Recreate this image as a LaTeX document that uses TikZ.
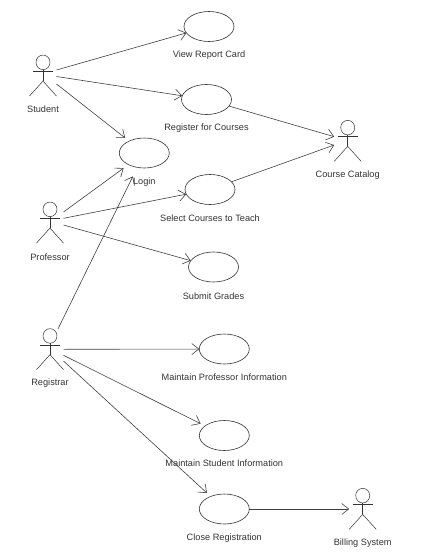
\documentclass[tikz,border=0pt]{standalone}
\usepackage{fontspec}
\setmainfont{Liberation Sans}
\usetikzlibrary{arrows.meta,positioning,shapes.geometric}

\begin{document}
\begin{tikzpicture}[
    x=1pt, y=-1pt,
    node distance=9pt,
    usecase/.style={draw=black!80, ellipse, minimum width=50pt, minimum height=30pt,
                    inner sep=0pt, outer sep=0pt, line width=0.6pt},
    actor/.style={minimum width=27pt, minimum height=40.7pt, inner sep=0pt, outer sep=0pt},
    lbl/.style={font=\fontsize{9.2}{10}\selectfont, text=black!80, inner sep=0pt, outer sep=0pt,
                text height=7pt, text depth=2pt},
    stick/.style={draw=black!80, line width=0.5pt},
    arr/.style={-{Straight Barb[length=7pt, width=11pt]}, draw=black!75, line width=0.6pt},
]
  \useasboundingbox (0,0) rectangle (432,557);

  % Actors
  \node[actor] (student) at (43,75.7) {};
  \node[actor] (professor) at (50,222.7) {};
  \node[actor] (registrar) at (50,349.3) {};
  \node[actor] (catalog) at (347.7,141) {};
  \node[actor] (billing) at (362.7,509) {};

  \foreach \a in {student,professor,registrar,catalog,billing} {
    \begin{scope}[shift={(\a)}]
      \draw[stick] (0,-13.35) circle[x radius=7, y radius=7.3];
      \draw[stick] (-10,-4.35) -- (10,-4.35);
      \draw[stick] (0,-6.05) -- (0,5.35);
      \draw[stick] (-13.5,20.35) -- (0,5.35) -- (13.5,20.35);
    \end{scope}
  }

  % Use cases
  \node[usecase] (view) at (209,26.5) {};
  \node[usecase] (register) at (206.5,99.5) {};
  \node[usecase] (login) at (144.3,153) {};
  \node[usecase] (select) at (210,189.5) {};
  \node[usecase] (submit) at (213.5,267) {};
  \node[usecase] (maintainprof) at (224.3,349) {};
  \node[usecase] (maintainstud) at (224.3,435.5) {};
  \node[usecase] (close) at (224.3,509) {};

  % Labels
  \node[lbl, below=of student] (studentlbl) {Student};
  \node[lbl, below=10pt of professor] (professorlbl) {Professor};
  \node[lbl, below=of registrar] (registrarlbl) {Registrar};
  \node[lbl, below=of catalog] (cataloglbl) {Course Catalog};
  \node[lbl, below=of billing] (billinglbl) {Billing System};
  \node[lbl, below=of view] (viewlbl) {View Report Card};
  \node[lbl, below=of register] (registerlbl) {Register for Courses};
  \node[lbl, below=of login] (loginlbl) {Login};
  \node[lbl, below=10pt of select] (selectlbl) {Select Courses to Teach};
  \node[lbl, below=10pt of submit] (submitlbl) {Submit Grades};
  \node[lbl, below=of maintainprof] (maintainproflbl) {Maintain Professor Information};
  \node[lbl, below=of maintainstud] (maintainstudlbl) {Maintain Student Information};
  \node[lbl, below=of close] (closelbl) {Close Registration};

  % Arrows
  \draw[arr] ([yshift=5.7pt]student.east) -- (view);
  \draw[arr] ([yshift=-0.8pt]student.east) -- (register);
  \draw[arr, shorten >=5pt] ([yshift=-8.3pt]student.east) -- (login);
  \draw[arr, shorten >=6pt] ([yshift=10.7pt]professor.east) -- (login);
  \draw[arr] ([yshift=4.4pt]professor.east) -- (select);
  \draw[arr] ([yshift=-2.3pt]professor.east) -- (submit);
  \draw[arr, shorten >=10pt] ([xshift=8pt]registrar.north) -- (login);
  \draw[arr] (registrar.east) -- (maintainprof);
  \draw[arr, shorten >=5pt] ([yshift=-6pt]registrar.east) -- (maintainstud);
  \draw[arr, shorten >=5pt] ([yshift=-11.7pt]registrar.east) -- (close);
  \draw[arr] (register) -- ([yshift=4.3pt]catalog.west);
  \draw[arr] (select) -- ([yshift=-4pt]catalog.west);
  \draw[arr] (close) -- (billing.west);
\end{tikzpicture}
\end{document}
